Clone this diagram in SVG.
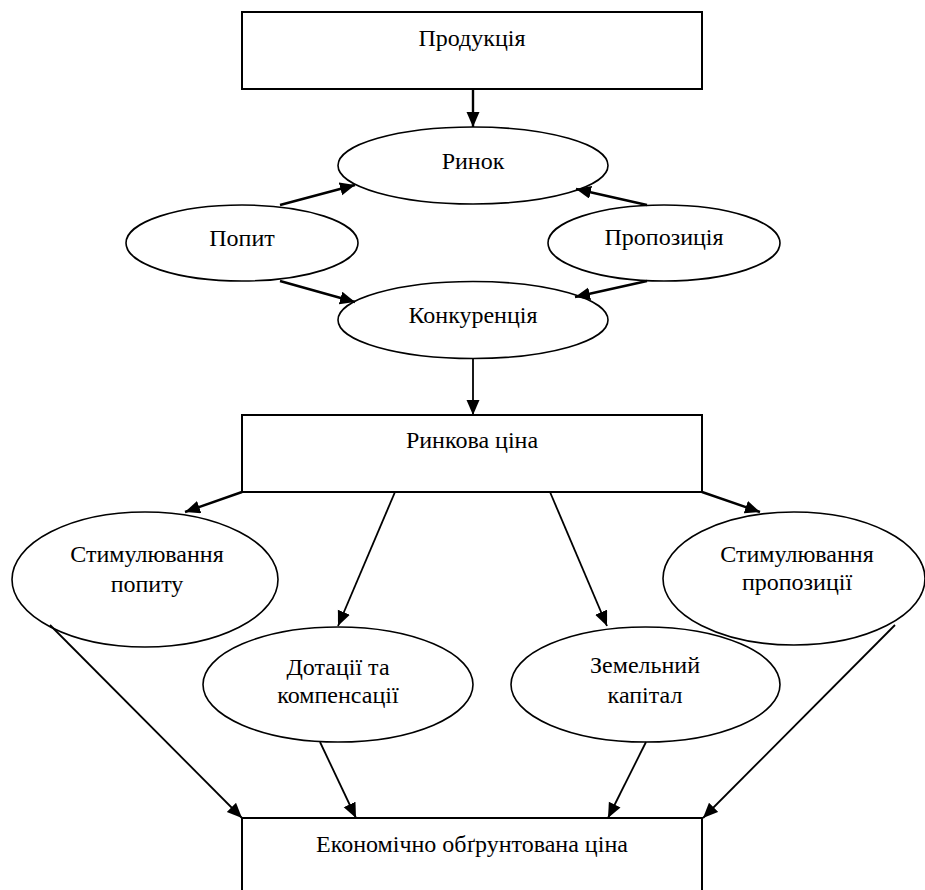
<svg xmlns="http://www.w3.org/2000/svg" width="925" height="890" viewBox="0 0 925 890">
<defs>
<marker id="ah" markerUnits="userSpaceOnUse" markerWidth="16" markerHeight="14" refX="15" refY="6.5" orient="auto">
<path d="M0,0 L15,6.5 L0,13 z" fill="#000"/>
</marker>
<style>
.box{fill:#fff;stroke:#000;stroke-width:2}
.el{fill:#fff;stroke:#000;stroke-width:1.6}
text{font-family:'Liberation Serif','Times New Roman','DejaVu Serif',serif;font-size:24px;fill:#000;text-anchor:middle}
.c{stroke:#000;stroke-width:2.4;fill:none;marker-end:url(#ah)}
.c2{stroke:#000;stroke-width:1.8;fill:none;marker-end:url(#ah)}
</style>
</defs>
<rect width="925" height="890" fill="#fff"/>
<g id="produktsiia"><rect class="box" x="242" y="12" width="460" height="77"/><text x="472" y="46">Продукція</text></g>
<g id="rynok"><ellipse class="el" cx="473" cy="165.5" rx="135" ry="38.5"/><text x="473" y="169">Ринок</text></g>
<g id="popyt"><ellipse class="el" cx="242" cy="243" rx="116" ry="38"/><text x="242" y="246">Попит</text></g>
<g id="propozytsiia"><ellipse class="el" cx="664" cy="243" rx="116" ry="38"/><text x="664" y="245">Пропозиція</text></g>
<g id="konkurentsiia"><ellipse class="el" cx="473" cy="320" rx="135" ry="38.5"/><text x="473" y="323">Конкуренція</text></g>
<g id="rynkova-tsina"><rect class="box" x="242" y="415" width="460" height="77"/><text x="472" y="448">Ринкова ціна</text></g>
<g id="stym-popytu"><ellipse class="el" cx="145" cy="579.5" rx="133" ry="67.5"/><text x="147" y="562">Стимулювання</text><text x="147" y="592">попиту</text></g>
<g id="stym-propozytsii"><ellipse class="el" cx="794" cy="578.5" rx="131" ry="66.5"/><text x="797" y="562">Стимулювання</text><text x="797" y="590">пропозиції</text></g>
<g id="dotatsii"><ellipse class="el" cx="338" cy="684.5" rx="135" ry="57.5"/><text x="338" y="675">Дотації та</text><text x="338" y="703">компенсації</text></g>
<g id="zemelnyi"><ellipse class="el" cx="645.5" cy="684.5" rx="134.5" ry="57.5"/><text x="645" y="673">Земельний</text><text x="645" y="703">капітал</text></g>
<g id="ekon-tsina"><rect class="box" x="242" y="818" width="460" height="90"/><text x="472" y="852">Економічно обґрунтована ціна</text></g>
<g id="connectors">
<line class="c" x1="473" y1="89" x2="473" y2="127"/>
<line class="c" x1="280" y1="205" x2="355" y2="185"/>
<line class="c" x1="647" y1="205" x2="576" y2="189"/>
<line class="c" x1="280" y1="281" x2="355" y2="302"/>
<line class="c" x1="647" y1="281" x2="575" y2="297"/>
<line class="c2" x1="473" y1="358" x2="473" y2="415"/>
<line class="c" x1="242" y1="492" x2="185" y2="512"/>
<line class="c" x1="702" y1="492" x2="760" y2="512"/>
<line class="c2" x1="395" y1="492" x2="338" y2="626"/>
<line class="c2" x1="550" y1="492" x2="607" y2="626"/>
<line class="c2" x1="50" y1="625" x2="242" y2="818"/>
<line class="c2" x1="320" y1="742" x2="356" y2="818"/>
<line class="c2" x1="646" y1="742" x2="608" y2="818"/>
<line class="c2" x1="895" y1="625" x2="703" y2="818"/>
</g>
</svg>
